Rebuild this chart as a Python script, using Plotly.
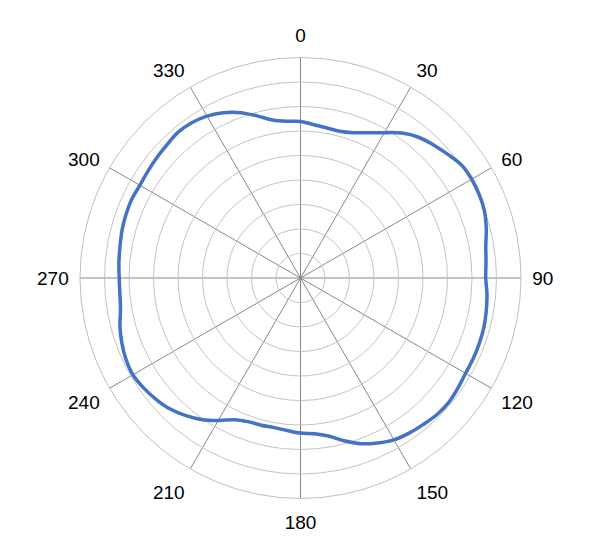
import plotly.graph_objects as go

# Angles (degrees, clockwise from top) and radial values
angles = list(range(0, 361, 5))
values = [
    6.39, 6.28, 6.22, 6.20, 6.31, 6.54, 6.85, 7.22, 7.50, 7.68,
    7.85, 8.03, 8.07, 8.05, 7.99, 7.85, 7.68, 7.60, 7.56, 7.64,
    7.70, 7.75, 7.77, 7.78, 7.78, 7.84, 7.90, 7.88, 7.80, 7.73,
    7.63, 7.43, 7.20, 6.88, 6.55, 6.38, 6.33, 6.25, 6.20, 6.22,
    6.24, 6.38, 6.72, 7.05, 7.32, 7.55, 7.70, 7.82, 7.90, 7.86,
    7.76, 7.63, 7.46, 7.40, 7.40, 7.44, 7.48, 7.54, 7.58, 7.60,
    7.57, 7.60, 7.65, 7.70, 7.77, 7.74, 7.63, 7.44, 7.18, 6.85,
    6.55, 6.42, 6.39,
]
tick_angles = list(range(0, 360, 30))
tick_labels = [str(a) for a in tick_angles]

fig = go.Figure()
fig.add_trace(go.Scatterpolar(
    r=values,
    theta=angles,
    mode="lines",
    line=dict(color="#4472C4", width=3.5, shape="spline", smoothing=1),
    showlegend=False,
    hoverinfo="skip",
))

fig.update_layout(
    width=600,
    height=552,
    margin=dict(l=72, r=87, t=49, b=61),
    paper_bgcolor="white",
    plot_bgcolor="white",
    font=dict(family="Liberation Sans, Arial, sans-serif", size=19, color="black"),
    polar=dict(
        bgcolor="white",
        angularaxis=dict(
            direction="clockwise",
            rotation=90,
            tickmode="array",
            tickvals=tick_angles,
            ticktext=tick_labels,
            ticks="outside",
            ticklen=7,
            tickcolor="rgba(0,0,0,0)",
            showline=True,
            linecolor="#bfbfbf",
            linewidth=1,
            showgrid=True,
            gridcolor="#888888",
            gridwidth=1.4,
            tickfont=dict(size=19, color="black"),
        ),
        radialaxis=dict(
            range=[0, 9],
            dtick=1,
            showticklabels=False,
            ticks="",
            showline=False,
            showgrid=True,
            gridcolor="#c4c4c4",
            gridwidth=1,
        ),
    ),
)

fig.write_html("out.html")
